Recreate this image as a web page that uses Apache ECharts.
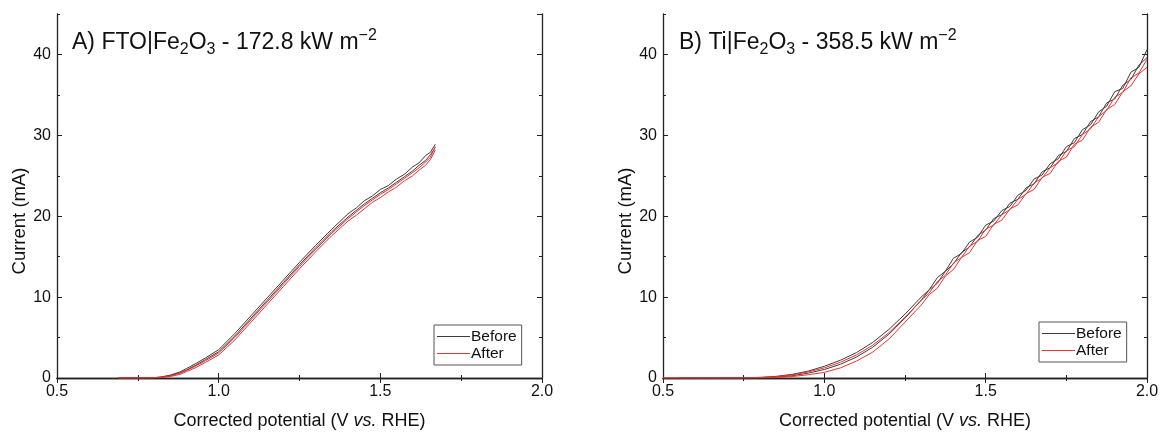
<!DOCTYPE html>
<html>
<head>
<meta charset="utf-8">
<script src="https://cdn.jsdelivr.net/npm/echarts@6/dist/echarts.min.js"></script>
<style>
html, body { margin: 0; padding: 0; background: #fff; }
#chartView { width: 1163px; height: 432px; }
</style>
</head>
<body>
<div id="chartView"></div>
<script>
// panel A: FTO|Fe2O3, potential grid (V vs RHE) and currents (mA)
var potA = [0.69, 0.72, 0.75, 0.78, 0.80, 0.82, 0.85, 0.88, 0.90, 0.93, 0.96, 1.00, 1.05, 1.10, 1.15, 1.20, 1.25, 1.30, 1.35, 1.40, 1.425, 1.45, 1.475, 1.50, 1.525, 1.55, 1.575, 1.60, 1.62, 1.64, 1.655, 1.67];
var beforeA1 = [0, 0, 0, 0.02, 0.05, 0.12, 0.35, 0.75, 1.15, 1.8, 2.5, 3.5, 5.5, 7.7, 9.9, 12.1, 14.3, 16.4, 18.4, 20.3, 21.0, 21.9, 22.5, 23.3, 23.8, 24.6, 25.2, 26.1, 26.6, 27.5, 27.9, 28.9];
var beforeA2 = [0, 0, 0, 0.01, 0.03, 0.09, 0.28, 0.62, 0.98, 1.6, 2.3, 3.25, 5.2, 7.4, 9.6, 11.8, 14.0, 16.1, 18.1, 19.9, 20.7, 21.5, 22.2, 22.9, 23.5, 24.2, 24.9, 25.6, 26.3, 26.9, 27.6, 28.5];
var afterA1 = [0, 0, 0, 0.01, 0.03, 0.08, 0.25, 0.58, 0.92, 1.5, 2.15, 3.1, 5.0, 7.2, 9.4, 11.6, 13.8, 15.9, 17.9, 19.7, 20.5, 21.3, 22.0, 22.7, 23.3, 24.0, 24.7, 25.4, 26.0, 26.7, 27.3, 28.6];
var afterA2 = [0, 0, 0, 0, 0.02, 0.05, 0.18, 0.45, 0.78, 1.3, 1.95, 2.85, 4.7, 6.9, 9.1, 11.3, 13.5, 15.6, 17.6, 19.4, 20.1, 20.9, 21.7, 22.3, 23.0, 23.6, 24.4, 25.0, 25.7, 26.3, 27.0, 28.2];

// panel B: Ti|Fe2O3
var potB = [0.50, 0.55, 0.60, 0.65, 0.70, 0.75, 0.80, 0.85, 0.90, 0.95, 1.00, 1.05, 1.10, 1.15, 1.20, 1.25, 1.30, 1.325, 1.35, 1.375, 1.40, 1.425, 1.45, 1.475, 1.50, 1.525, 1.55, 1.575, 1.60, 1.625, 1.65, 1.675, 1.70, 1.725, 1.75, 1.775, 1.80, 1.825, 1.85, 1.875, 1.90, 1.925, 1.95, 1.975, 2.00];
var beforeB1 = [null, 0, 0, 0, 0, 0.02, 0.08, 0.2, 0.45, 0.85, 1.45, 2.2, 3.15, 4.4, 6.0, 7.9, 10.0, 10.9, 12.4, 13.2, 14.8, 15.4, 16.8, 17.4, 18.9, 19.4, 20.7, 21.2, 22.6, 23.2, 24.6, 25.1, 26.5, 27.1, 28.6, 29.1, 30.7, 31.3, 32.9, 33.6, 35.4, 35.8, 37.8, 38.4, 40.6];
var beforeB2 = [null, 0, 0, 0, 0, 0, 0.03, 0.1, 0.28, 0.6, 1.05, 1.7, 2.6, 3.8, 5.4, 7.4, 9.6, 10.9, 11.7, 13.2, 14.1, 15.5, 16.2, 17.6, 18.3, 19.7, 20.2, 21.6, 22.1, 23.5, 24.0, 25.5, 26.0, 27.5, 28.0, 29.6, 30.1, 31.7, 32.3, 34.0, 34.5, 36.2, 36.9, 38.7, 39.6];
var afterB1 = [0, 0, 0, 0, 0, 0.01, 0.05, 0.15, 0.38, 0.75, 1.25, 1.95, 2.85, 4.05, 5.6, 7.5, 9.6, 10.5, 11.9, 12.7, 14.2, 14.9, 16.3, 16.9, 18.4, 18.9, 20.2, 20.8, 22.1, 22.7, 24.1, 24.7, 26.0, 26.6, 28.1, 28.6, 30.1, 30.8, 32.3, 33.1, 34.7, 35.3, 37.1, 37.7, 39.4];
var afterB2 = [0, 0, 0, 0, 0, 0, 0.02, 0.06, 0.18, 0.4, 0.7, 1.25, 2.1, 3.2, 4.8, 6.9, 9.0, 10.3, 11.1, 12.6, 13.4, 14.9, 15.5, 17.0, 17.5, 19.0, 19.5, 20.9, 21.4, 22.8, 23.3, 24.8, 25.3, 26.8, 27.3, 28.9, 29.4, 31.0, 31.6, 33.2, 33.8, 35.4, 36.1, 37.6, 38.4];

var xTicks = [0.5, 2.0, 0.5];   // min, max, interval
var yTicks = [0, 45, 10];

var FONT = 'Liberation Sans, Arial, sans-serif';
var BLACK = '#3c3c3c';
var RED = '#f23030';

function pairs(xs, ys) {
	var out = [];
	for (var i = 0; i < xs.length; i++) {
		out.push([xs[i], ys[i]]);
	}
	return out;
}

function xAxes(gi) {
	var tick = { inside: true, length: 5, lineStyle: { color: '#222' } };
	var minor = { show: true, splitNumber: 2, length: 3, lineStyle: { color: '#222' } };
	var line = { lineStyle: { color: '#222', width: 1.3 } };
	var bottom = {
		type: 'value', gridIndex: gi, min: xTicks[0], max: xTicks[1], interval: xTicks[2],
		position: 'bottom', splitLine: { show: false }, axisLine: line, axisTick: tick, minorTick: minor,
		axisLabel: {
			margin: 6, fontSize: 16, color: '#111', fontFamily: FONT,
			formatter: function (v) { return v.toFixed(1); }
		},
		name: 'Corrected potential (V {i|vs.} RHE)',
		nameLocation: 'middle', nameGap: 34,
		nameTextStyle: {
			fontSize: 18, color: '#111', fontFamily: FONT,
			rich: { i: { fontSize: 18, fontStyle: 'italic', color: '#111', fontFamily: FONT } }
		}
	};
	var top = {
		type: 'value', gridIndex: gi, min: xTicks[0], max: xTicks[1], interval: xTicks[2],
		position: 'top', splitLine: { show: false }, axisLine: line, axisTick: tick, minorTick: minor,
		axisLabel: { show: false }
	};
	return [bottom, top];
}

function yAxes(gi) {
	var line = { lineStyle: { color: '#222', width: 1.3 } };
	var tick = { inside: true, length: 5, lineStyle: { color: '#222' } };
	var tickMinor = { inside: true, length: 3, lineStyle: { color: '#222' } };
	var main = {
		type: 'value', gridIndex: gi, min: yTicks[0], max: yTicks[1], interval: yTicks[2],
		position: 'left', splitLine: { show: false }, axisLine: line, axisTick: tick,
		axisLabel: { margin: 6, fontSize: 16, color: '#111', fontFamily: FONT, showMaxLabel: false },
		name: 'Current (mA)', nameLocation: 'middle', nameGap: 27,
		nameTextStyle: { fontSize: 18.5, color: '#111', fontFamily: FONT, padding: [0, 50, 0, 0] }
	};
	var minor = {
		type: 'value', gridIndex: gi, min: yTicks[0], max: yTicks[1], interval: yTicks[2] / 2,
		position: 'left', splitLine: { show: false }, axisLine: { show: false },
		axisTick: tickMinor, axisLabel: { show: false }
	};
	var mainR = {
		type: 'value', gridIndex: gi, min: yTicks[0], max: yTicks[1], interval: yTicks[2],
		position: 'right', splitLine: { show: false }, axisLine: line, axisTick: tick,
		axisLabel: { show: false }
	};
	var minorR = {
		type: 'value', gridIndex: gi, min: yTicks[0], max: yTicks[1], interval: yTicks[2] / 2,
		position: 'right', splitLine: { show: false }, axisLine: { show: false },
		axisTick: tickMinor, axisLabel: { show: false }
	};
	return [main, minor, mainR, minorR];
}

function curve(name, color, gi, xs, ys) {
	return {
		name: name, type: 'line', xAxisIndex: gi * 2, yAxisIndex: gi * 4,
		data: pairs(xs, ys), symbol: 'none', smooth: false,
		lineStyle: { color: color, width: 1 }, itemStyle: { color: color },
		clip: true
	};
}

function legendAt(left, top) {
	return {
		orient: 'vertical', left: left, top: top,
		data: ['Before', 'After'],
		icon: 'rect',
		borderColor: '#555', borderWidth: 1, borderRadius: 0,
		padding: [3, 5, 3, 3], itemGap: 0,
		itemWidth: 33, itemHeight: 1,
		textStyle: { fontSize: 15.5, color: '#111', fontFamily: FONT, lineHeight: 17, padding: [0, 0, 0, -4] },
		selectedMode: false
	};
}

function titleAt(left, text) {
	return {
		text: text, left: left, top: 28, padding: 0,
		textStyle: {
			fontSize: 23, fontWeight: 'normal', color: '#111', fontFamily: FONT, lineHeight: 30,
			rich: {
				a: { fontSize: 23, color: '#111', fontFamily: FONT, lineHeight: 30 },
				sub: { fontSize: 16, color: '#111', fontFamily: FONT, lineHeight: 15, verticalAlign: 'bottom' },
				sup: { fontSize: 16, color: '#111', fontFamily: FONT, lineHeight: 23, verticalAlign: 'top' }
			}
		}
	};
}

var chartView = echarts.init(document.getElementById('chartView'), null, { renderer: 'canvas' });

var ops = {
	backgroundColor: '#fff',
	animation: false,
	title: [
		titleAt(72, '{a|A) FTO|Fe}{sub|2}{a|O}{sub|3}{a| - 172.8 kW m}{sup|\u22122}'),
		titleAt(679, '{a|B) Ti|Fe}{sub|2}{a|O}{sub|3}{a| - 358.5 kW m}{sup|\u22122}')
	],
	grid: [
		{ left: 57, right: 621, top: 14, bottom: 54, outerBoundsMode: 'none' },
		{ left: 663, right: 16, top: 14, bottom: 54, outerBoundsMode: 'none' }
	],
	legend: [legendAt(434, 325), legendAt(1039, 322)],
	xAxis: xAxes(0).concat(xAxes(1)),
	yAxis: yAxes(0).concat(yAxes(1)),
	series: [
		curve('Before', BLACK, 0, potA, beforeA1),
		curve('Before', BLACK, 0, potA, beforeA2),
		curve('After', RED, 0, potA, afterA1),
		curve('After', RED, 0, potA, afterA2),
		curve('Before', BLACK, 1, potB, beforeB1),
		curve('Before', BLACK, 1, potB, beforeB2),
		curve('After', RED, 1, potB, afterB1),
		curve('After', RED, 1, potB, afterB2)
	]
};
chartView.setOption(ops);
</script>
</body>
</html>
